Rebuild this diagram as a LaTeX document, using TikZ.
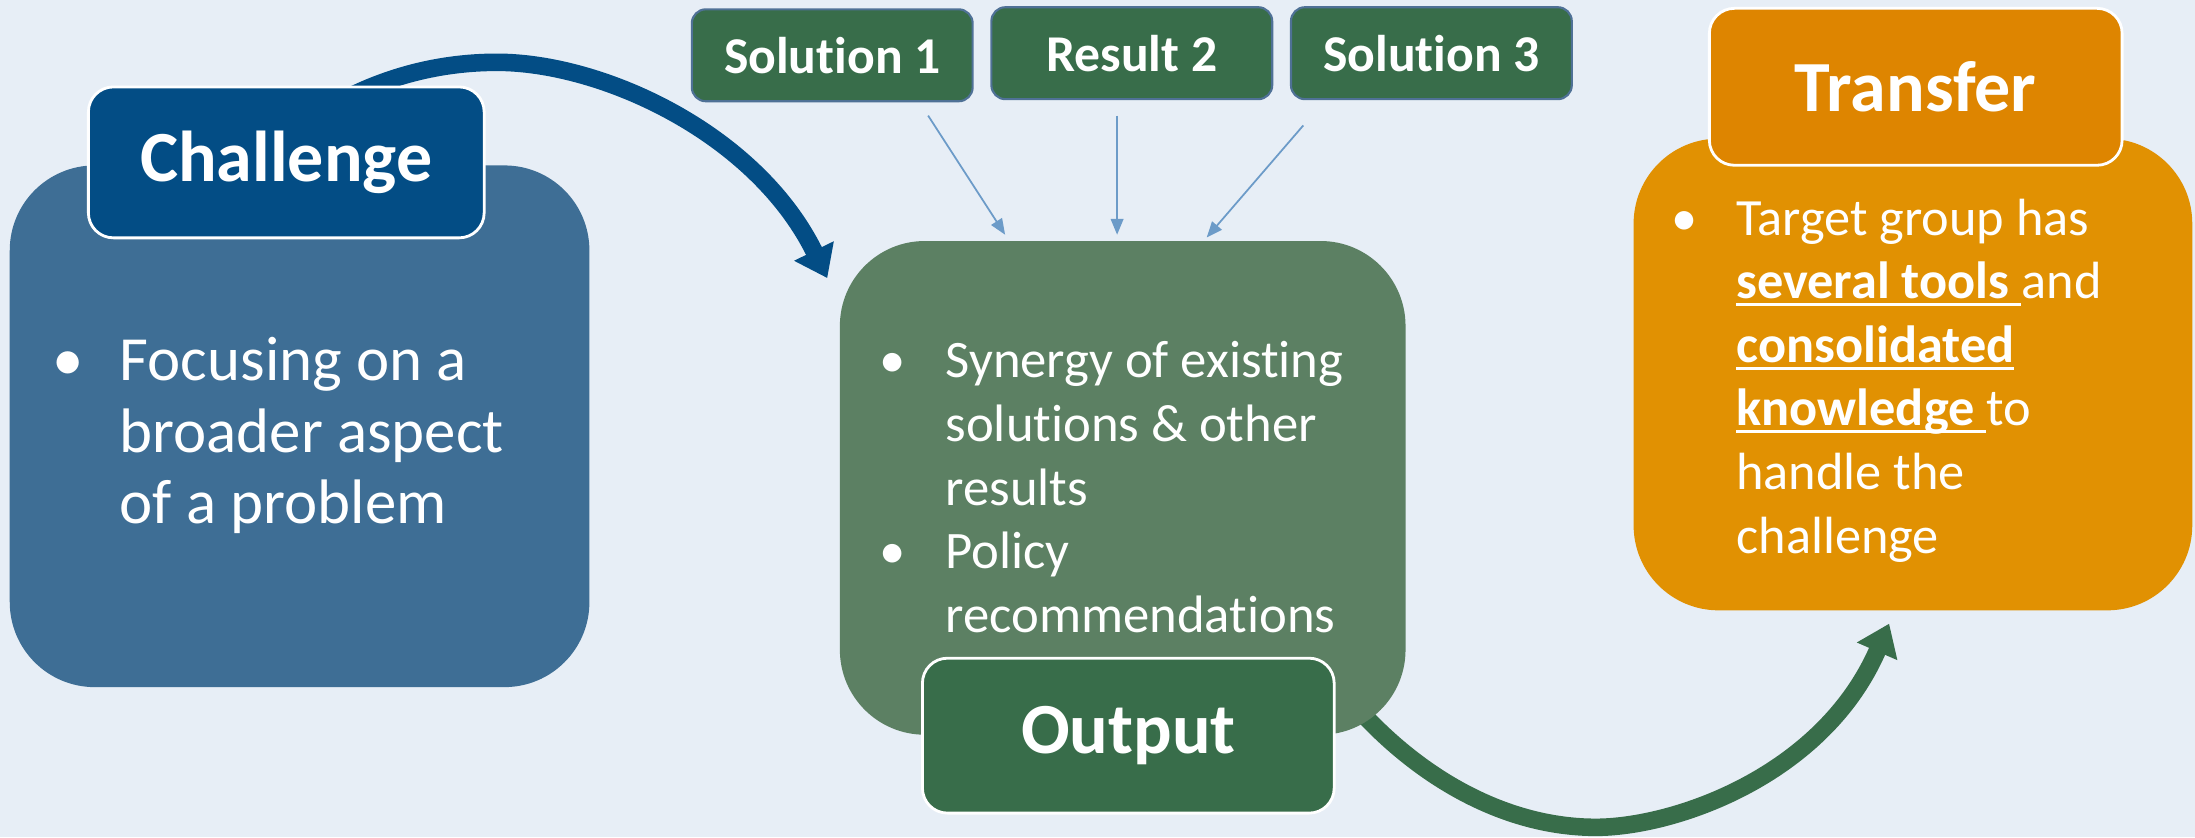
\documentclass[tikz,border=0pt]{standalone}
\usepackage{fontspec}
\setmainfont{Carlito}[Ligatures=NoCommon]
\usetikzlibrary{arrows.meta, backgrounds}

\definecolor{bgblue}{HTML}{E7EEF6}
\definecolor{chbody}{HTML}{3E6E95}
\definecolor{chtab}{HTML}{034D85}
\definecolor{midbody}{HTML}{5C8063}
\definecolor{dkgreen}{HTML}{386D4A}
\definecolor{trbody}{HTML}{E19102}
\definecolor{trtab}{HTML}{DE8500}
\definecolor{thinblue}{HTML}{6C9BC8}
\definecolor{soledge}{HTML}{4F7196}

% underline that runs below the descenders
\newcommand{\ulin}[1]{\sbox0{#1}\rlap{\rule[-0.14em]{\wd0}{0.06em}}\usebox0}

\begin{document}
\begin{tikzpicture}[
    x=0.014cm, y=-0.014cm,
    bodybox/.style={rectangle, rounded corners=0.85cm, inner sep=0pt},
    tabbox/.style={rectangle, rounded corners=0.25cm, draw=white, line width=0.8pt, text=white, font=\fontsize{20.5}{24}\selectfont\bfseries},
    solbox/.style={rectangle, rounded corners=0.14cm, draw=soledge, line width=0.6pt, fill=dkgreen, text=white, minimum width=2.81cm, minimum height=0.92cm, font=\fontsize{14.7}{17}\selectfont\bfseries},
    listtext/.style={anchor=base west, inner sep=0pt, text=white},
    bigarrow/.style={line width=5pt, -{Triangle[length=8.6pt,width=12pt]}},
    thinarrow/.style={draw=thinblue, line width=0.5pt, -{Triangle[length=4.5pt,width=3.6pt]}}
]

\useasboundingbox (0,0) rectangle (1568,598);

% challenge
\node[bodybox, fill=chbody, minimum width=5.80cm, minimum height=5.22cm] (chbody) at (214,304.5) {};
\node[listtext, font=\fontsize{17.9}{20.3}\selectfont] (chtxt) at (37,272)
    {\begin{tabular}[t]{@{}p{0.672cm}@{}l@{}}•&Focusing on a\\&broader aspect\\&of a problem\end{tabular}};
\node[tabbox, fill=chtab, minimum width=3.96cm, minimum height=1.51cm] (chtab) at (204.5,116) {Challenge};

% output
\node[bodybox, fill=midbody, minimum width=5.66cm, minimum height=4.94cm] (midbody) at (802,348.5) {};
\node[listtext, font=\fontsize{15}{18.1}\selectfont] (midtxt) at (627.5,270)
    {\begin{tabular}[t]{@{}p{0.665cm}@{}l@{}}•&Synergy of existing\\&solutions \& other\\&results\\•&Policy\\&recommendations\end{tabular}};
\node[tabbox, fill=dkgreen, minimum width=4.12cm, minimum height=1.55cm] (outtab) at (806,525.5) {Output};

% transfer
\node[bodybox, fill=trbody, minimum width=5.59cm, minimum height=4.72cm] (trbody) at (1366.5,267.5) {};
\node[listtext, font=\fontsize{14.9}{18.1}\selectfont] (trtxt) at (1193.5,168)
    {\begin{tabular}[t]{@{}p{0.65cm}@{}l@{}}•&Target group has\\&\ulin{\textbf{several tools }}and\\&\ulin{\textbf{consolidated}}\\&\ulin{\textbf{knowledge }}to\\&handle the\\&challenge\end{tabular}};
\node[tabbox, fill=trtab, minimum width=4.13cm, minimum height=1.57cm] (trtab) at (1368.5,62) {Transfer};

% inputs
\node[solbox] (sol1) at (594.5,39.5) {Solution 1};
\node[solbox] (res2) at (808.5,38) {Result 2};
\node[solbox] (sol3) at (1022.5,38) {Solution 3};

\draw[thinarrow] ([shift={(68.5,9.5)}]sol1.south) -- ([shift={(-84,-4)}]midbody.north);
\draw[thinarrow] ([shift={(-10.5,11)}]res2.south) -- ([shift={(-4,-4)}]midbody.north);
\draw[thinarrow] ([shift={(-91.5,18)}]sol3.south) -- ([shift={(60,-2)}]midbody.north);

\begin{scope}[on background layer]
\fill[bgblue] (0,0) rectangle (1568,598);
\draw[bigarrow, chtab] ([shift={(35.5,-42)}]chtab.center) .. controls (280,52) and (320,44.5) .. (355,44.5)
    .. controls (430,44.5) and (540,95) .. ([shift={(-8.5,27)}]midbody.north west);
\draw[bigarrow, dkgreen] ([shift={(-44,-30)}]midbody.south east) .. controls (1010,555) and (1075,591) .. (1140,591)
    .. controls (1195,591) and (1301.8,555) .. ([shift={(-17,9)}]trbody.south);
\end{scope}

\end{tikzpicture}
\end{document}
